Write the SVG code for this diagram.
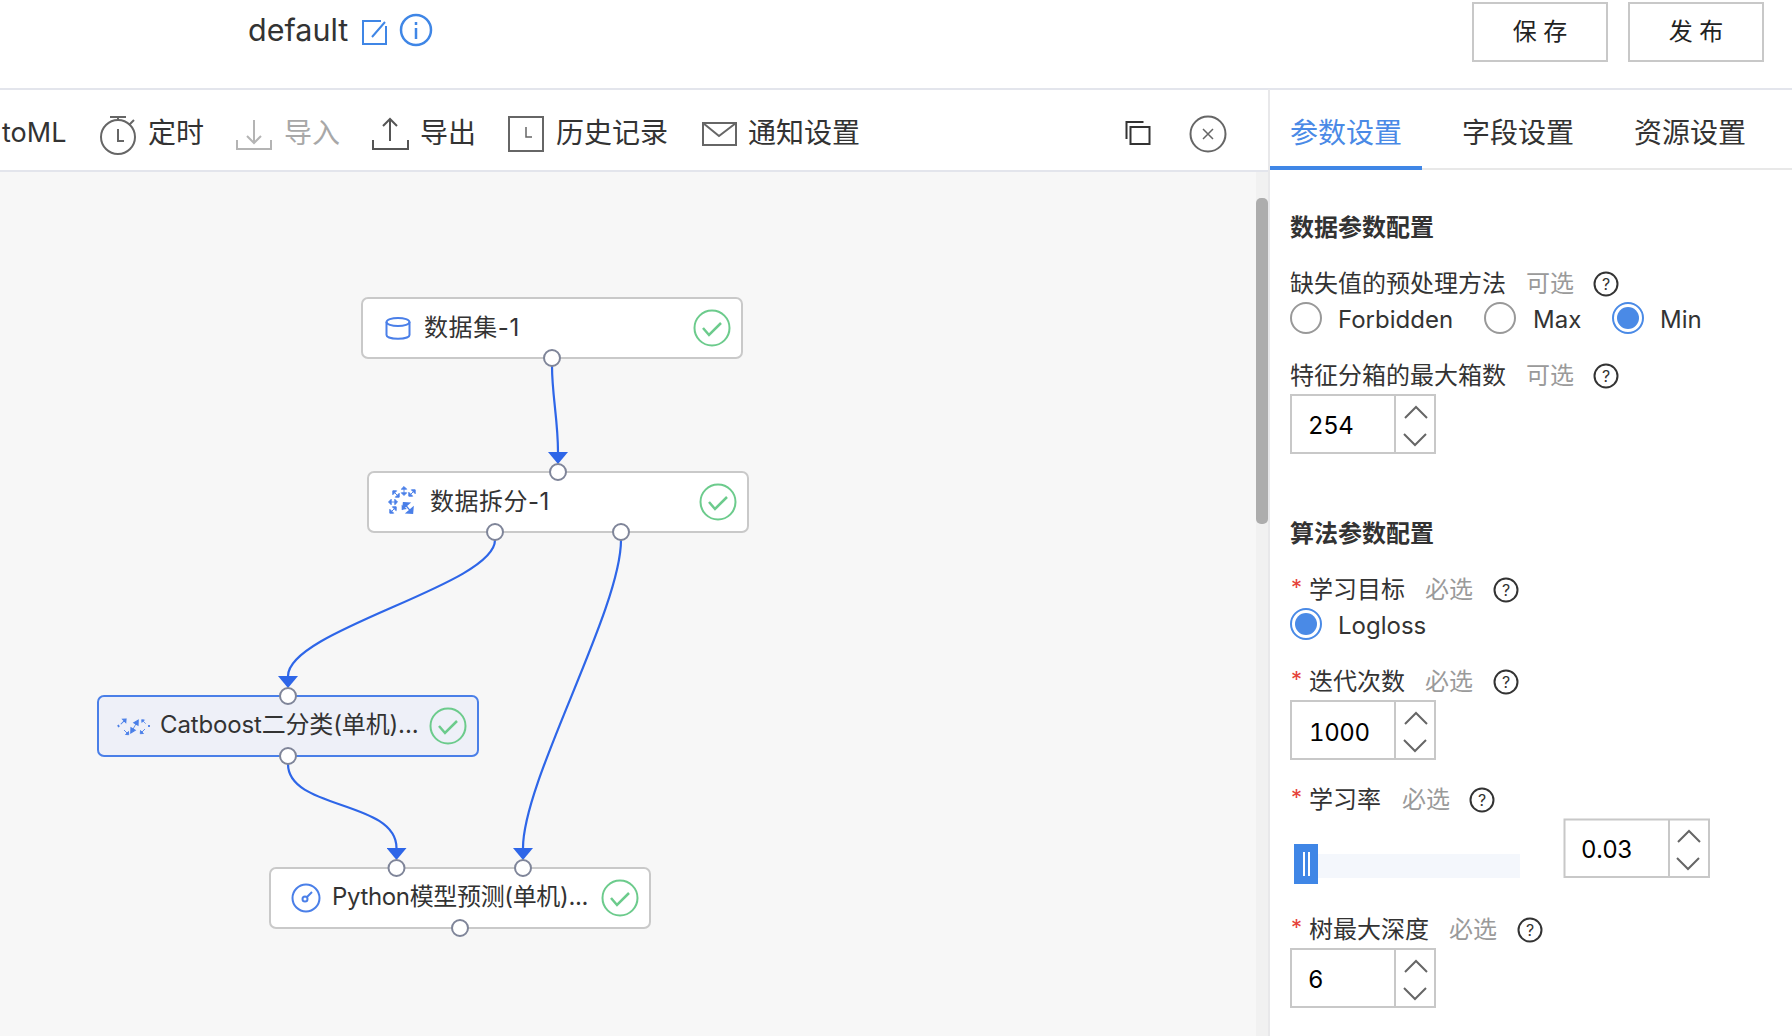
<svg xmlns="http://www.w3.org/2000/svg" width="1792" height="1036" viewBox="0 0 1792 1036">
<style>
text{font-family:"Inter","Noto Sans CJK SC",sans-serif;font-size:24px;fill:#333}
.tb{font-size:28px}
.h{font-weight:600;fill:#333}
.g{fill:#9a9a9a}
.v{fill:#000;font-variant-numeric:tabular-nums;letter-spacing:-.4px}
.star{fill:#e5423a;font-size:22px}
.btn{fill:#fff;stroke:#c8c8c8;stroke-width:2}
.box{fill:#fff;stroke:#c9c9c9;stroke-width:2}
.sel{fill:#eef0f8;stroke:#4a7fe8;stroke-width:2}
.port{fill:#fff;stroke:#7f8599;stroke-width:2}
.ok{fill:none;stroke:#6ccb8c;stroke-width:2}
.line{fill:none;stroke:#2e66e8;stroke-width:2.2}
.ic{fill:none;stroke:#666;stroke-width:2}
.nic{fill:none;stroke:#4a7fe8;stroke-width:2}
.inp{fill:#fff;stroke:#c8c8c8;stroke-width:2}
.chev{fill:none;stroke:#666;stroke-width:2}
.help{fill:none;stroke:#333;stroke-width:2}
</style>
<defs>
<marker id="arrow" markerUnits="userSpaceOnUse" markerWidth="12" markerHeight="20" refX="0" refY="10" orient="auto" viewBox="0 0 12 20"><path d="M0 0L12 10L0 20Z" fill="#2e66e8"/></marker>
<g id="check"><circle r="17.5" class="ok"/><path d="M-9 0L-3 7L9 -5" fill="none" stroke="#6ccb8c" stroke-width="2.5"/></g>
<g id="helpicon"><circle r="11.5" class="help"/><text x="0" y="6" text-anchor="middle" style="font-size:16px">?</text></g>
<g id="spin"><path class="chev" d="M-11 11L0 0L11 11"/><path class="chev" d="M-12 27L-1 38L10 27"/></g>
<path id="ar" d="M-2 0H2M-5 0L-2 -3V3ZM5 0L2 -3V3Z" fill="#4a7fe8" stroke="#4a7fe8" stroke-width="1"/>
<path id="ar1" d="M-4 0H3M5.500 0L2 -3V3Z" fill="#4a7fe8" stroke="#4a7fe8" stroke-width="1.200"/>
</defs>
<rect width="1792" height="1036" fill="#fff"/>
<rect x="0" y="172" width="1256" height="864" fill="#f7f7f7"/>
<rect x="1256" y="172" width="13" height="864" fill="#f1f1f1"/>
<rect x="1256" y="198" width="12" height="326" rx="5" fill="#adadad"/>
<rect x="0" y="88" width="1792" height="2" fill="#e3e5ec"/>
<rect x="0" y="170" width="1268" height="2" fill="#e3e5ec"/>
<rect x="1268" y="89" width="2" height="947" fill="#e8e8ea"/>
<rect x="1270" y="168" width="522" height="2" fill="#e8e8e8"/>
<rect x="1270" y="166" width="152" height="4" fill="#3f86e6"/>
<g id="header">
<text x="248" y="41" style="font-size:30.5px">default</text>
<path d="M381 21H363V44H386V26M372 37L385 22" fill="none" stroke="#3f86e6" stroke-width="2"/>
<circle cx="416" cy="30" r="15" fill="none" stroke="#3f86e6" stroke-width="2.5"/>
<path d="M416 28V39M416 22V25" fill="none" stroke="#3f86e6" stroke-width="2.5"/>
<rect x="1473" y="3" width="134" height="58" class="btn"/>
<text x="1540" y="40" text-anchor="middle" style="fill:#222">保 存</text>
<rect x="1629" y="3" width="134" height="58" class="btn"/>
<text x="1696" y="40" text-anchor="middle" style="fill:#222">发 布</text>
</g>
<g id="toolbar">
<text x="2" y="142" style="font-size:27px">toML</text>
<circle cx="118" cy="137" r="17" class="ic"/><path class="ic" d="M110 117H126M118 117V120M129 125L134 120M118 129V141H124"/>
<text x="148" y="143" class="tb">定时</text>
<path d="M237 140V149H271V140M254 120V143M247 136L254 143L261 136" fill="none" stroke="#b4b4b4" stroke-width="2"/>
<text x="284" y="143" class="tb" style="fill:#a8a8a8">导入</text>
<path class="ic" d="M373 140V149H408V140M390 119V141M383 126L390 119L397 126" style="stroke:#555"/>
<text x="420" y="143" class="tb">导出</text>
<rect x="509" y="117" width="34" height="34" class="ic"/><path class="ic" d="M526 127V137H532" style="stroke-width:1.5"/>
<text x="556" y="143" class="tb">历史记录</text>
<rect x="703" y="123" width="33" height="22" class="ic"/><path class="ic" d="M703 123L719 136L736 123"/>
<text x="748" y="143" class="tb">通知设置</text>
<path d="M1126.500 139V122H1143.500" fill="none" stroke="#333" stroke-width="2"/><rect x="1130.500" y="127" width="19" height="17" fill="none" stroke="#333" stroke-width="2"/>
<circle cx="1208" cy="134" r="17.5" class="ic"/><path class="ic" d="M1203 129L1213 139M1213 129L1203 139" style="stroke-width:1.5"/>
</g>
<g id="tabs">
<text x="1290" y="143" class="tb" style="fill:#4a8ae6">参数设置</text>
<text x="1462" y="143" class="tb">字段设置</text>
<text x="1634" y="143" class="tb">资源设置</text>
</g>
<g id="connectors">
<path class="line" marker-end="url(#arrow)" d="M552 366C552 395 558 420 558 452"/>
<path class="line" marker-end="url(#arrow)" d="M495 540C495 585 288 630 288 676"/>
<path class="line" marker-end="url(#arrow)" d="M621 540C621 610 523 780 523 848"/>
<path class="line" marker-end="url(#arrow)" d="M288 764C288 810 396.500 800 396.500 848"/>
</g>
<g id="node-dataset">
<rect x="362" y="298" width="380" height="60" rx="6" class="box"/>
<ellipse cx="398" cy="322" rx="11.500" ry="4" class="nic"/><path class="nic" d="M386.500 322V335C386.500 340 409.500 340 409.500 335V322"/>
<text x="424" y="336" style="letter-spacing:.6px">数据集-1</text>
<use href="#check" x="712" y="328"/>
<circle cx="552" cy="358" r="8" class="port"/>
</g>
<g id="node-split">
<rect x="368" y="472" width="380" height="60" rx="6" class="box"/>
<use href="#ar" transform="translate(396,494) rotate(45) scale(.9)"/><use href="#ar" transform="translate(404,491) rotate(90) scale(.9)"/><use href="#ar" transform="translate(412,493) rotate(-45) scale(.9)"/>
<use href="#ar" transform="translate(393,502) scale(.9)"/><use href="#ar" transform="translate(393,510) rotate(-45) scale(.9)"/><use href="#ar" transform="translate(408,508) rotate(50) scale(1.400)"/><use href="#ar1" transform="translate(405,506) rotate(130) scale(.8)"/>
<text x="430" y="510" style="letter-spacing:.5px">数据拆分-1</text>
<use href="#check" x="718" y="502"/>
<circle cx="558" cy="472" r="8" class="port"/>
<circle cx="495" cy="532" r="8" class="port"/>
<circle cx="621" cy="532" r="8" class="port"/>
</g>
<g id="node-catboost">
<rect x="98" y="696" width="380" height="60" rx="6" class="sel"/>
<use href="#ar1" transform="translate(123,722) rotate(-45) scale(.8)"/><use href="#ar1" transform="translate(126,732) rotate(45) scale(.7)"/><use href="#ar" transform="translate(134.500,726.500) rotate(-60) scale(1.500,.8)"/><use href="#ar1" transform="translate(144,722) rotate(-135) scale(.6)"/><use href="#ar1" transform="translate(143,731) rotate(135) scale(.7)"/><path d="M118 725L119 727M149 725V727" fill="none" stroke="#4a7fe8" stroke-width="1.800"/>
<text x="160" y="733" style="letter-spacing:-.15px">Catboost二分类(单机)...</text>
<use href="#check" x="448" y="726"/>
<circle cx="288" cy="696" r="8" class="port"/>
<circle cx="288" cy="756" r="8" class="port"/>
</g>
<g id="node-python">
<rect x="270" y="868" width="380" height="60" rx="6" class="box"/>
<circle cx="306" cy="898" r="13.500" class="nic"/><circle cx="305" cy="899" r="2.500" class="nic"/><path class="nic" d="M307 897L312 892"/>
<text x="332" y="905" style="letter-spacing:-.35px">Python模型预测(单机)...</text>
<use href="#check" x="620" y="898"/>
<circle cx="396.500" cy="868" r="8" class="port"/>
<circle cx="523" cy="868" r="8" class="port"/>
<circle cx="460" cy="928" r="8" class="port"/>
</g>
<g id="panel">
<text x="1290" y="236" class="h">数据参数配置</text>
<text x="1290" y="292">缺失值的预处理方法</text><text x="1526" y="292" class="g">可选</text><use href="#helpicon" x="1606" y="284"/>
<circle cx="1306" cy="318" r="15" fill="#fff" stroke="#999" stroke-width="2"/><text x="1338" y="328">Forbidden</text>
<circle cx="1500" cy="318" r="15" fill="#fff" stroke="#999" stroke-width="2"/><text x="1533" y="328">Max</text>
<circle cx="1628" cy="318" r="15" fill="#fff" stroke="#4a8ae6" stroke-width="2"/><circle cx="1628" cy="318" r="11" fill="#4a8ae6"/><text x="1660" y="328">Min</text>
<text x="1290" y="384">特征分箱的最大箱数</text><text x="1526" y="384" class="g">可选</text><use href="#helpicon" x="1606" y="376"/>
<rect x="1291" y="395" width="144" height="58" class="inp"/><path class="inp" d="M1395 395V453"/>
<text x="1308" y="434" class="v">254</text><use href="#spin" x="1416" y="407"/>
<text x="1290" y="542" class="h">算法参数配置</text>
<text x="1291" y="595" class="star">*</text><text x="1309" y="598">学习目标</text><text x="1425" y="598" class="g">必选</text><use href="#helpicon" x="1506" y="590"/>
<circle cx="1306" cy="624" r="15" fill="#fff" stroke="#4a8ae6" stroke-width="2"/><circle cx="1306" cy="624" r="11" fill="#4a8ae6"/><text x="1338" y="634">Logloss</text>
<text x="1291" y="687" class="star">*</text><text x="1309" y="690">迭代次数</text><text x="1425" y="690" class="g">必选</text><use href="#helpicon" x="1506" y="682"/>
<rect x="1291" y="701" width="144" height="58" class="inp"/><path class="inp" d="M1395 701V759"/>
<text x="1309" y="741" class="v">1000</text><use href="#spin" x="1416" y="713"/>
<text x="1291" y="805" class="star">*</text><text x="1309" y="808">学习率</text><text x="1402" y="808" class="g">必选</text><use href="#helpicon" x="1482" y="800"/>
<rect x="1318" y="854" width="202" height="24" fill="#f4f7fc"/>
<rect x="1294" y="844" width="24" height="40" fill="#3f86e6"/><path d="M1304 852V876M1309 852V876" stroke="#fff" stroke-width="2"/>
<rect x="1564.500" y="819.500" width="144.500" height="57.500" class="inp"/><path class="inp" d="M1669 820V877"/>
<text x="1581" y="858" class="v">0.03</text><use href="#spin" x="1689" y="831"/>
<text x="1291" y="935" class="star">*</text><text x="1309" y="938">树最大深度</text><text x="1449" y="938" class="g">必选</text><use href="#helpicon" x="1530" y="930"/>
<rect x="1291" y="949" width="144" height="58" class="inp"/><path class="inp" d="M1395 949V1007"/>
<text x="1308" y="988" class="v">6</text><use href="#spin" x="1416" y="961"/>
</g>
</svg>
